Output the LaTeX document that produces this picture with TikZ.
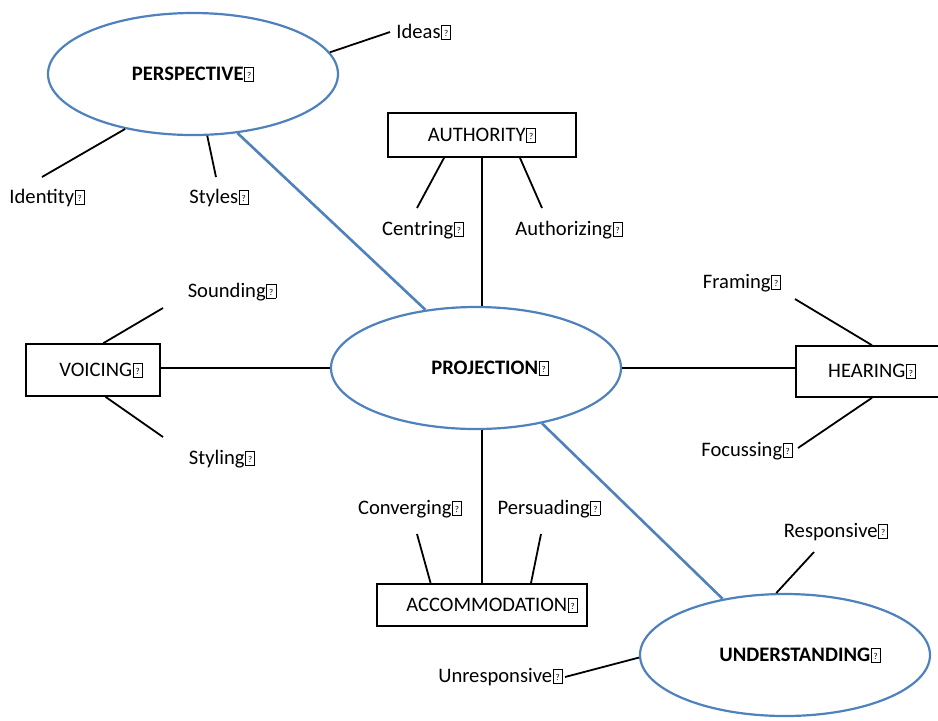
\documentclass[tikz,border=0pt]{standalone}
\usepackage{fontspec}
\setmainfont{Carlito}
\usepackage{xcolor}
\definecolor{BubbleBlue}{HTML}{4F81BD}
\usetikzlibrary{shapes.geometric}
% kleines Kaestchen fuer das fehlende Zeichen hinter jedem Wort
\newcommand{\missbox}{\kern0.3pt{\fboxsep=0.25pt\fboxrule=0.35pt\fbox{\makebox[0.36em]{\rule{0pt}{0.6em}\raisebox{0.08em}{\fontsize{4.5}{4.5}\selectfont\mdseries ?}}}}}

\begin{document}
\begin{tikzpicture}[
  x=0.5pt, y=-0.5pt,
  % Grundstile
  bubble/.style={
    ellipse,
    draw=BubbleBlue,
    line width=1.1pt,
    minimum width=145pt,
    minimum height=61pt,
    inner sep=0pt,
    font=\fontsize{10.3}{12}\selectfont\bfseries
  },
  tagbox/.style={
    rectangle,
    draw=black,
    line width=0.8pt,
    inner sep=0pt,
    font=\fontsize{10.3}{12}\selectfont
  },
  lbl/.style={
    font=\fontsize{10.3}{12}\selectfont,
    inner sep=0pt
  },
  spoke/.style={
    draw=black,
    line width=0.9pt
  },
  link/.style={
    draw=BubbleBlue,
    line width=1.3pt
  }
]

% =============================================================================
% RAHMEN
% =============================================================================
\useasboundingbox[fill=white] (0,0) rectangle (938,720);

% =============================================================================
% ELLIPSEN UND KAESTEN
% =============================================================================
\node[bubble] (persp) at (193,74) {PERSPECTIVE\missbox};
\node[bubble] (proj) at (476,368) {\hspace{14pt}PROJECTION\missbox};
\node[bubble] (under) at (785,655) {\hspace{15pt}UNDERSTANDING\missbox};

\node[tagbox, minimum width=94pt, minimum height=22pt] (auth) at (482,135) {AUTHORITY\missbox};
\node[tagbox, minimum width=67pt, minimum height=26pt] (voice) at (93,370) {\hspace{8pt}VOICING\missbox};
\node[tagbox, minimum width=76pt, minimum height=25.5pt] (hear) at (872,371.5) {HEARING\missbox};
\node[tagbox, minimum width=105pt, minimum height=21pt] (accom) at (482,605) {\hspace{10pt}ACCOMMODATION\missbox};

% =============================================================================
% VERBINDUNGEN ZUR MITTE
% =============================================================================
\draw[link] (persp.307) -- (proj.131);
\draw[link] (proj.320) -- (under.138);
\draw[spoke] (auth.south) -- (auth.south |- proj.north);
\draw[spoke] (accom.north |- proj.south) -- (accom.north);
\draw[spoke] (voice.east |- proj.west) -- (proj.west);
\draw[spoke] (proj.east) -- (proj.east -| hear.west);

% =============================================================================
% BESCHRIFTUNGEN
% =============================================================================
\node[lbl, anchor=west] (ideas) at (396,32) {Ideas\missbox};
\node[lbl] (ident) at (47,198) {Identity\missbox};
\node[lbl] (styles) at (219,198) {Styles\missbox};
\node[lbl] (centr) at (423,230) {Centring\missbox};
\node[lbl] (authz) at (569,230) {Authorizing\missbox};
\node[lbl] (sound) at (232,292) {Sounding\missbox};
\node[lbl] (styling) at (222,459) {Styling\missbox};
\node[lbl] (fram) at (742,283) {Framing\missbox};
\node[lbl] (focus) at (747,451) {Focussing\missbox};
\node[lbl] (conv) at (410,509) {Converging\missbox};
\node[lbl] (pers) at (549,509) {Persuading\missbox};
\node[lbl] (resp) at (836,532) {Responsive\missbox};
\node[lbl, anchor=east] (unresp) at (563,677) {Unresponsive\missbox};

% freie Enden der Striche
\coordinate (ideasEnd) at (390,32);
\coordinate (identEnd) at (42,177);
\coordinate (stylesEnd) at (216,177);
\coordinate (centrEnd) at (417,208);
\coordinate (authzEnd) at (542,208);
\coordinate (soundEnd) at (163,308);
\coordinate (stylingEnd) at (163,437);
\coordinate (framEnd) at (795,299);
\coordinate (focusEnd) at (798,448);
\coordinate (convEnd) at (417,534);
\coordinate (persEnd) at (541,534);
\coordinate (respEnd) at (814,552);
\coordinate (unrespEnd) at (565,677);

% Striche zu den Beschriftungen
\foreach \from/\to in {persp.9/ideasEnd, persp.219/identEnd, persp.283/stylesEnd,
                       auth.211/centrEnd, auth.329/authzEnd,
                       voice.69/soundEnd, voice.295/stylingEnd,
                       hear.north/framEnd, hear.south/focusEnd,
                       accom.157/convEnd, accom.24.5/persEnd,
                       under.98/respEnd, under.181/unrespEnd} {
  \draw[spoke] (\from) -- (\to);
}

\end{tikzpicture}
\end{document}
